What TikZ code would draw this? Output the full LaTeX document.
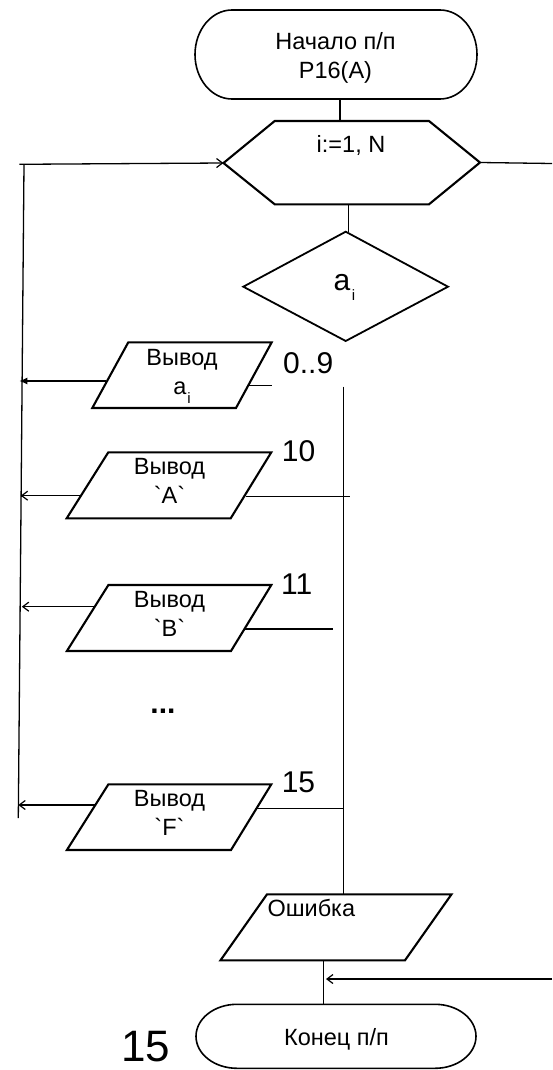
\documentclass[tikz,border=0pt]{standalone}
\usepackage{fontspec}
\setmainfont{Liberation Sans}
\usetikzlibrary{arrows.meta}
\newcommand\bq{\XeTeXglyph\XeTeXcharglyph"60\relax}
\begin{document}
\begin{tikzpicture}[x=1pt,y=-1pt,
  blk/.style={line width=2.1pt, line join=miter},
  term/.style={line width=1.6pt},
  conn/.style={line width=1.3pt},
  arr/.style={conn, -{Straight Barb[length=6pt,width=9pt,line width=1.2pt]}},
  arrf/.style={conn, -{Latex[length=8pt,width=7pt]}},
  txt/.style={inner sep=0pt, anchor=base, font=\fontsize{23.5}{23.5}\selectfont},
  num/.style={inner sep=0pt, anchor=base west, font=\fontsize{30}{30}\selectfont},
  sub/.style={inner sep=0pt, anchor=base west, font=\fontsize{15}{15}\selectfont}]
\useasboundingbox (0,0) rectangle (552,1070);

% start terminator
\draw[term] (232,10) -- (440,10) arc[start angle=90,end angle=-90,x radius=37pt,y radius=44.5pt]
  -- (232,99) arc[start angle=270,end angle=90,x radius=37pt,y radius=44.5pt] -- cycle;
\node[txt] (s1) at (335.5,50) {Начало п/п};
\node[txt] (s2) at (335.5,78.3) {P16(A)};
\coordinate (sb) at (340,99);

% loop hexagon
\draw[blk] (274.7,121) -- (429,121) -- (480,162.5) -- (429,204.3) -- (274.7,204.3) -- (223.5,163) -- cycle;
\coordinate (ht) at (340,121);
\coordinate (hl) at (223.5,163);
\coordinate (hr) at (480,162.5);
\coordinate (hb) at (348.3,204.3);
\node[txt] (hx) at (351,152.3) {i:=1, N};

% decision diamond
\draw[line width=1.8pt] (345.7,231.7) -- (448,286.7) -- (345.7,341) -- (243.3,286.7) -- cycle;
\coordinate (dt) at (345.7,231.7);
\node[inner sep=0pt, anchor=base west, font=\fontsize{30}{30}\selectfont] (da) at (333.5,290.5) {a};
\node[sub] (di) at (da.base east) [yshift=-10pt, xshift=1pt] {i};

% output 1
\draw[blk] (128.3,342.3) -- (271.7,342.3) -- (236,408) -- (92.3,408) -- cycle;
\node[txt] (p1a) at (182,365) {Вывод};
\node[txt] (p1b) at (180,394.3) {a};
\node[sub] (p1c) at (p1b.base east) [yshift=-9pt, xshift=0.5pt] {i};
\coordinate (p1l) at (106,381);
\coordinate (p1r) at (248,385.7);
\coordinate (p1e) at (271.7,385.7);
\node[num] (n1) at (283,373.3) {0..9};

% output 2
\draw[blk] (108.3,452.3) -- (271.3,452.3) -- (230.7,518.3) -- (66.7,518.3) -- cycle;
\node[txt] (p2a) at (169.5,474.3) {Вывод};
\node[txt] (p2b) at (169.5,503.3) {\bq A\bq};
\coordinate (p2l) at (80.5,495.7);
\coordinate (p2r) at (245.5,496.3);
\coordinate (p2e) at (349.7,496.3);
\node[num] (n2) at (281.7,461) {10};

% output 3
\draw[blk] (108.4,585) -- (271.3,585) -- (231,651) -- (66.9,651) -- cycle;
\node[txt] (p3a) at (169.5,607) {Вывод};
\node[txt] (p3b) at (169.5,636) {\bq B\bq};
\coordinate (p3l) at (95,606.7);
\coordinate (p3r) at (244.5,629);
\coordinate (p3e) at (333,629);
\node[num] (n3) at (281,594) {11};

\node[inner sep=0pt, anchor=base, font=\bfseries\fontsize{30}{30}\selectfont] (dots) at (163,713) {...};

% output 4
\draw[blk] (108.4,784.3) -- (271.3,784.3) -- (231,850) -- (66.9,850) -- cycle;
\node[txt] (p4a) at (169.5,806) {Вывод};
\node[txt] (p4b) at (169.5,835) {\bq F\bq};
\coordinate (p4l) at (95,805);
\coordinate (p4r) at (256.6,808.3);
\coordinate (p4e) at (343.5,808.3);
\node[num] (n4) at (281.6,792.7) {15};

% error output
\draw[blk] (267,894.3) -- (451.5,894.3) -- (405,960.3) -- (220.5,960.3) -- cycle;
\node[inner sep=0pt, anchor=base west, font=\fontsize{23.5}{23.5}\selectfont] (err) at (267.3,916.7) {Ошибка};
\coordinate (et) at (343.5,894.3);
\coordinate (eb) at (323.3,960.3);

% end terminator
\draw[term] (237,1004.3) -- (435,1004.3) arc[start angle=90,end angle=-90,x radius=41pt,y radius=32pt]
  -- (237,1068.3) arc[start angle=270,end angle=90,x radius=41pt,y radius=32pt] -- cycle;
\node[txt] (en) at (336.5,1045) {Конец п/п};
\coordinate (ent) at (323.3,1004.3);
\node[inner sep=0pt, anchor=base west, font=\fontsize{44}{44}\selectfont] (big) at (121,1061.7) {15};

% main column connector
\coordinate (vt) at (343.5,386.7);
\coordinate (re) at (552,979);
\coordinate (rt) at (326,979);
\coordinate (rh) at (552,163.5);
\coordinate (lt) at (24,164.3);
\coordinate (lb) at (18.3,818);
\coordinate (la) at (19.3,164.3);

% connectors
\draw[conn] (sb) -- (ht);
\draw[conn] (hb) -- (hb |- dt);
\draw[conn] (hr) -- (rh);
\draw[conn] (lt) -- (lb);
\draw[arr] (la) -- (hl);
\draw[conn] (vt) -- (et);
\draw[arrf] (p1l) -- (p1l -| la);
\draw[conn] (p1r) -- (p1e);
\draw[arr] (p2l) -- (20.7,495.7);
\draw[conn] (p2r) -- (p2e);
\draw[arr] (p3l) -- (21.8,606.7);
\draw[conn] (p3r) -- (p3e);
\draw[arr] (p4l) -- (18.3,805);
\draw[conn] (p4r) -- (p4e);
\draw[conn] (eb) -- (ent);
\draw[arr] (re) -- (rt);
\end{tikzpicture}
\end{document}
